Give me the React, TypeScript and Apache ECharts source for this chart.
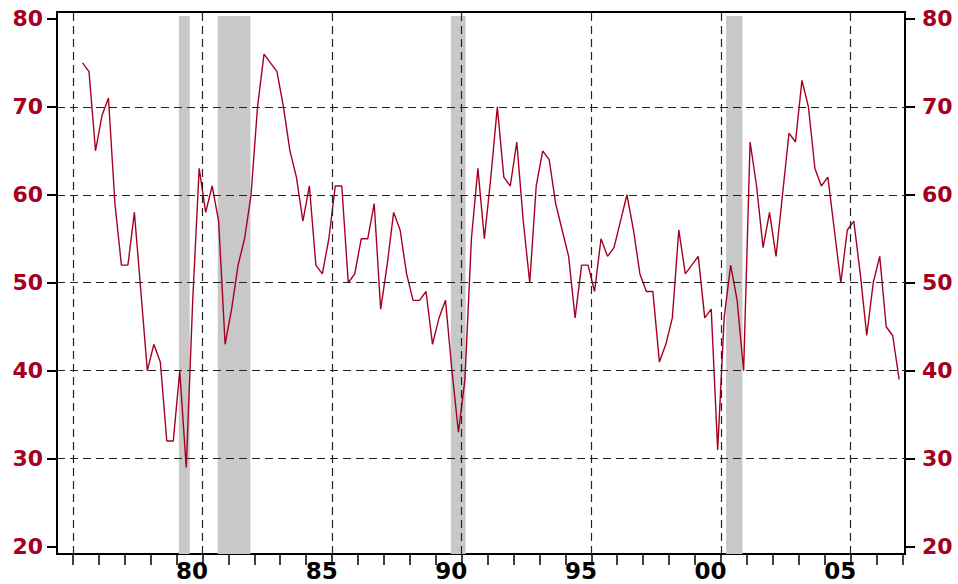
import React, { useEffect, useRef } from 'react';
import * as echarts from 'echarts';

// Quarterly series, 1976 Q2 .. 2007 Q4
const START_YEAR = 1976;
const START_QUARTER = 2;
const values = [
  75, 74, 65,
  69, 71, 59, 52,
  52, 58, 49, 40,
  43, 41, 32, 32,
  40, 29, 48, 63,
  58, 61, 57, 43,
  47, 52, 55, 60,
  70, 76, 75, 74,
  70, 65, 62, 57,
  61, 52, 51, 55,
  61, 61, 50, 51,
  55, 55, 59, 47,
  52, 58, 56, 51,
  48, 48, 49, 43,
  46, 48, 40, 33,
  39, 55, 63, 55,
  62, 70, 62, 61,
  66, 57, 50, 61,
  65, 64, 59, 56,
  53, 46, 52, 52,
  49, 55, 53, 54,
  57, 60, 56, 51,
  49, 49, 41, 43,
  46, 56, 51, 52,
  53, 46, 47, 31,
  46, 52, 48, 40,
  66, 61, 54, 58,
  53, 60, 67, 66,
  73, 70, 63, 61,
  62, 56, 50, 56,
  57, 51, 44, 50,
  53, 45, 44, 39,
];

const recessionStarts = [1980.09, 1981.59, 1990.58, 2001.2];
const recessionEnds = [1980.51, 1982.85, 1991.15, 2001.83];

const yTicks = [20, 30, 40, 50, 60, 70, 80];
const yGridLines = [30, 40, 50, 60, 70];
const xGridYears = [1976, 1981, 1986, 1991, 1996, 2001, 2006];
const xTickYears = [
  1976, 1977, 1978, 1979, 1980, 1981, 1982, 1983, 1984, 1985, 1986,
  1987, 1988, 1989, 1990, 1991, 1992, 1993, 1994, 1995, 1996, 1997,
  1998, 1999, 2000, 2001, 2002, 2003, 2004, 2005, 2006, 2007, 2008,
];
const xLabelYears = [1980, 1985, 1990, 1995, 2000, 2005];

const X_MIN = 1975.39;
const X_MAX = 2008.1;
const Y_MIN = 19.16;
const Y_MAX = 80.78;
const SHADE_TOP = 80.33;

const RED = '#A50021';
const FONT = 'DejaVu Sans';

export default function App() {
  const ref = useRef<HTMLDivElement>(null);

  useEffect(() => {
    if (!ref.current) return;
    const chart = echarts.init(ref.current, undefined, { renderer: 'svg' });

    const lineData = values.map((v, i) => [
      START_YEAR + (START_QUARTER - 1 + i) / 4 + 0.125,
      v,
    ]);

    const yAxisCommon = {
      type: 'value' as const,
      min: Y_MIN,
      max: Y_MAX,
      splitLine: { show: false },
      axisLine: { show: true, lineStyle: { color: '#000', width: 2 } },
      axisTick: {
        show: true,
        inside: false,
        length: 10,
        customValues: yTicks,
        lineStyle: { color: '#000', width: 2 },
      },
    };

    const yLabel = {
      customValues: yTicks,
      color: RED,
      fontFamily: FONT,
      fontWeight: 'bold',
      fontSize: 22,
      padding: [6, 0, 0, 0],
    };

    chart.setOption({
      animation: false,
      grid: {
        left: 57,
        right: 53,
        top: 12,
        bottom: 30,
        show: true,
        borderColor: '#000',
        borderWidth: 2,
        backgroundColor: 'transparent',
      },
      xAxis: {
        type: 'value',
        min: X_MIN,
        max: X_MAX,
        splitLine: { show: false },
        axisLine: { show: true, lineStyle: { color: '#000', width: 2 } },
        axisTick: {
          show: true,
          inside: false,
          length: 11,
          customValues: xTickYears,
          lineStyle: { color: '#000', width: 1.5 },
        },
        axisLabel: {
          customValues: xLabelYears.map((y) => y + 0.6),
          formatter: (v: number) => String(Math.floor(v) % 100).padStart(2, '0'),
          color: '#000',
          fontFamily: FONT,
          fontWeight: 'bold',
          fontSize: 23,
          margin: 5,
        },
      },
      yAxis: [
        { ...yAxisCommon, position: 'left', axisLabel: { ...yLabel, margin: 14 } },
        { ...yAxisCommon, position: 'right', axisLabel: { ...yLabel, margin: 17 } },
      ],
      series: [
        {
          type: 'line',
          z: 1,
          silent: true,
          data: lineData,
          showSymbol: false,
          lineStyle: { opacity: 0 },
          markArea: {
            silent: true,
            itemStyle: { color: '#C8C8C8' },
            data: recessionStarts.map((s, i) => [
              { xAxis: s, yAxis: SHADE_TOP },
              { xAxis: recessionEnds[i], yAxis: Y_MIN },
            ]),
          },
        },
        {
          type: 'line',
          z: 2,
          silent: true,
          data: lineData,
          showSymbol: false,
          lineStyle: { opacity: 0 },
          markLine: {
            silent: true,
            symbol: ['none', 'none'],
            label: { show: false },
            lineStyle: { color: '#222', width: 1.2, type: [8, 5] },
            data: [
              ...yGridLines.map((v) => ({ yAxis: v })),
              ...xGridYears.map((v) => ({ xAxis: v })),
            ],
          },
        },
        {
          type: 'line',
          z: 3,
          data: lineData,
          showSymbol: false,
          symbol: 'none',
          lineStyle: { color: RED, width: 1.4 },
        },
      ],
    });

    return () => chart.dispose();
  }, []);

  return (
    <div
      ref={ref}
      style={{ position: 'fixed', left: 0, top: 0, width: 958, height: 584, background: '#fff' }}
    />
  );
}
